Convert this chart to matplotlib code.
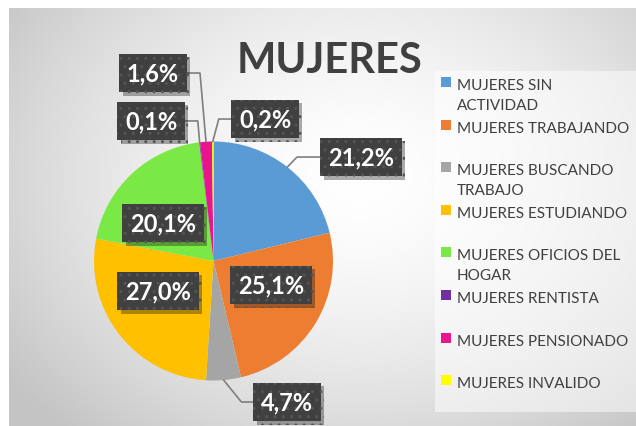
import numpy as np
import matplotlib
matplotlib.use("Agg")
import matplotlib.pyplot as plt
import matplotlib.patheffects as pe
from matplotlib.patches import Rectangle

categories = ["MUJERES SIN\nACTIVIDAD", "MUJERES TRABAJANDO", "MUJERES BUSCANDO\nTRABAJO",
              "MUJERES ESTUDIANDO", "MUJERES OFICIOS DEL\nHOGAR", "MUJERES RENTISTA",
              "MUJERES PENSIONADO", "MUJERES INVALIDO"]
values = [21.2, 25.1, 4.7, 27.0, 20.1, 0.1, 1.6, 0.2]
labels = ["21,2%", "25,1%", "4,7%", "27,0%", "20,1%", "0,1%", "1,6%", "0,2%"]
colors = ["#5B9BD5", "#ED7D31", "#A5A5A5", "#FFC000", "#7AE845", "#7030A0", "#E8158F", "#FFFF00"]

# label box centres (pie radius units) and leader-line angle at the wedge (None = inside, no line)
label_xy = [(1.234, 0.870), (0.481, -0.201), (0.615, -1.180), (-0.464, -0.251),
            (-0.423, 0.318), (-0.523, 1.172), (-0.506, 1.573), (0.431, 1.188)]
leader = [46, None, -51, None, None, 95, 95, 75]

W, H = 636, 427
fig = plt.figure(figsize=(W / 100, H / 100), dpi=100)
fig.patch.set_facecolor("white")

# grey radial gradient background
bg = fig.add_axes([9 / W, 0, (W - 9) / W, (H - 9) / H], zorder=0)
yy, xx = np.mgrid[0:418, 0:627]
d = np.hypot((xx - 350) / 420, (yy - 170) / 330)
g = np.clip(1.0 - 0.22 * d ** 1.6, 0.77, 1.0)
bg.imshow(np.dstack([g, g, g]), aspect="auto", extent=[0, 1, 0, 1], origin="upper")
bg.axis("off")

# lighter legend panel
fig.patches.append(Rectangle((435 / W, 1 - 413 / H), (W - 435) / W, (413 - 72) / H,
                             transform=fig.transFigure, facecolor="white", alpha=0.5,
                             edgecolor="none", zorder=1))

fig.text(330 / W, 1 - 61 / H, "MUJERES", fontsize=30, fontweight="bold", family="Lato",
         color="#404040", ha="center", va="center", zorder=3)

# pie
r = 119.5
ax = fig.add_axes([(213.5 - r) / W, (H - 262 - r) / H, 2 * r / W, 2 * r / H], zorder=2)
wedges, _ = ax.pie(values, colors=colors, startangle=90, counterclock=False,
                   wedgeprops=dict(linewidth=0))
ax.set_xlim(-1, 1)
ax.set_ylim(-1, 1)
ax.set_aspect("equal")
ax.axis("off")

cum = np.cumsum([0] + values[:-1])
for i, (lab, (tx, ty)) in enumerate(zip(labels, label_xy)):
    mid = np.deg2rad(90 - (cum[i] + values[i] / 2) / 100 * 360)
    px, py = np.cos(mid), np.sin(mid)
    bbox = dict(boxstyle="square,pad=0.33", facecolor="#404040", edgecolor="#555555",
                linewidth=0, hatch="..")
    if leader[i] is None:
        t = ax.annotate(lab, xy=(tx, ty), ha="center", va="center", fontsize=17,
                        fontweight="bold", family="Lato", color="white", bbox=bbox,
                        annotation_clip=False)
    else:
        angA = 0 if tx > px else 180
        t = ax.annotate(lab, xy=(px, py), xytext=(tx, ty), ha="center", va="center",
                        fontsize=17, fontweight="bold", family="Lato", color="white",
                        bbox=bbox, annotation_clip=False,
                        arrowprops=dict(arrowstyle="-", color="#7f7f7f", lw=1.2,
                                        shrinkA=0, shrinkB=0,
                                        connectionstyle=f"angle,angleA={angA},angleB={leader[i]},rad=0"))
    t.get_bbox_patch().set_path_effects([pe.SimplePatchShadow(offset=(2.5, -2.5), alpha=0.35),
                                         pe.Normal()])

# legend
step = 42.6
for i, (cat, col) in enumerate(zip(categories, colors)):
    y = 83 + i * step
    fig.patches.append(Rectangle((441 / W, 1 - (y + 5) / H), 10 / W, 10 / H,
                                 transform=fig.transFigure, facecolor=col,
                                 edgecolor="none", zorder=3))
    fig.text(457 / W, 1 - (y - 4) / H, cat, fontsize=11, family="Lato", color="#404040",
             ha="left", va="top", linespacing=1.5, zorder=3)

fig.savefig("out.png", dpi=100)
